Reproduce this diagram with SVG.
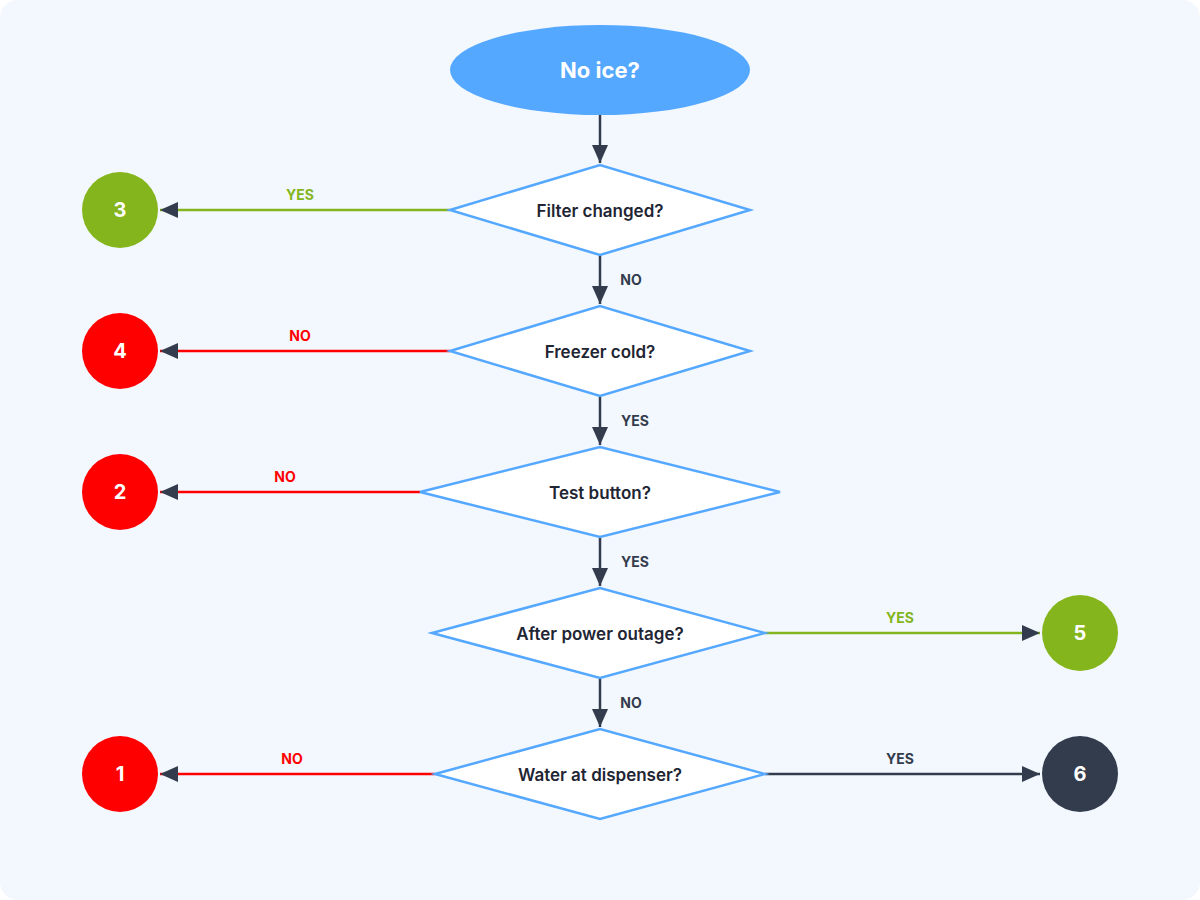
<svg xmlns="http://www.w3.org/2000/svg" width="1200" height="900" viewBox="0 0 1200 900">
<style>
.d{fill:#fff;stroke:#55a8ff;stroke-width:2.5}
.t{font-family:Inter,"Liberation Sans",sans-serif;font-weight:600;font-size:17px;fill:#1f2533;text-anchor:middle;dominant-baseline:central}
.c{font-family:Inter,"Liberation Sans",sans-serif;font-weight:700;font-size:20px;fill:#fff;text-anchor:middle;dominant-baseline:central}
.l{font-family:Inter,"Liberation Sans",sans-serif;font-weight:700;font-size:14px;text-anchor:middle;dominant-baseline:central}
.k{stroke:#333c4d;stroke-width:2.5;fill:none}
.g{stroke:#84b51c;stroke-width:2.5;fill:none}
.r{stroke:#f00;stroke-width:2.5;fill:none}
</style>
<defs>
<marker id="a" viewBox="0 0 10 10" refX="9" refY="5" markerWidth="6" markerHeight="6" markerUnits="userSpaceOnUse" orient="auto" style="overflow:visible"><path d="M0,0L10,5L0,10z" fill="#333c4d" transform="scale(1.8) translate(-4,-2.2)"/></marker>
<marker id="b" viewBox="0 0 20 16" refX="18" refY="8" markerWidth="20" markerHeight="16" markerUnits="userSpaceOnUse" orient="auto"><path d="M0,0L18,8L0,16z" fill="#333c4d"/></marker>
</defs>
<rect x="0" y="0" width="1200" height="900" rx="18" fill="#f3f8fe"/>
<g id="connectors">
<line class="k" x1="600" y1="115" x2="600" y2="163" marker-end="url(#b)"/>
<line class="k" x1="600" y1="255" x2="600" y2="304" marker-end="url(#b)"/>
<line class="k" x1="600" y1="396" x2="600" y2="445" marker-end="url(#b)"/>
<line class="k" x1="600" y1="537" x2="600" y2="586" marker-end="url(#b)"/>
<line class="k" x1="600" y1="678" x2="600" y2="727" marker-end="url(#b)"/>
<line class="g" x1="450" y1="210" x2="160" y2="210" marker-end="url(#b)"/>
<line class="r" x1="450" y1="351" x2="160" y2="351" marker-end="url(#b)"/>
<line class="r" x1="420" y1="492" x2="160" y2="492" marker-end="url(#b)"/>
<line class="g" x1="765" y1="633" x2="1040" y2="633" marker-end="url(#b)"/>
<line class="r" x1="435" y1="774" x2="160" y2="774" marker-end="url(#b)"/>
<line class="k" x1="765" y1="774" x2="1040" y2="774" marker-end="url(#b)"/>
<text class="l" x="631" y="279" fill="#333c4d">NO</text>
<text class="l" x="635" y="420" fill="#333c4d">YES</text>
<text class="l" x="635" y="561" fill="#333c4d">YES</text>
<text class="l" x="631" y="702" fill="#333c4d">NO</text>
<text class="l" x="300" y="194" fill="#84b51c">YES</text>
<text class="l" x="300" y="335" fill="#f00">NO</text>
<text class="l" x="285" y="476" fill="#f00">NO</text>
<text class="l" x="900" y="617" fill="#84b51c">YES</text>
<text class="l" x="292" y="758" fill="#f00">NO</text>
<text class="l" x="900" y="758" fill="#333c4d">YES</text>
</g>
<g id="start"><ellipse cx="600" cy="70" rx="150" ry="45" fill="#55a8ff"/><text class="c" x="600" y="70" style="font-size:22px">No ice?</text></g>
<g id="q1"><polygon class="d" points="450,210 600,165 750,210 600,255"/><text class="t" x="600" y="211">Filter changed?</text></g>
<g id="q2"><polygon class="d" points="450,351 600,306 750,351 600,396"/><text class="t" x="600" y="352">Freezer cold?</text></g>
<g id="q3"><polygon class="d" points="420,492 600,447 780,492 600,537"/><text class="t" x="600" y="493">Test button?</text></g>
<g id="q4"><polygon class="d" points="432,633 600,588 765,633 600,678"/><text class="t" x="600" y="634">After power outage?</text></g>
<g id="q5"><polygon class="d" points="435,774 600,729 765,774 600,819"/><text class="t" x="600" y="775">Water at dispenser?</text></g>
<g id="n3"><circle cx="120" cy="210" r="38" fill="#84b51c"/><text class="c" x="120" y="210">3</text></g>
<g id="n4"><circle cx="120" cy="351" r="38" fill="#f00"/><text class="c" x="120" y="351">4</text></g>
<g id="n2"><circle cx="120" cy="492" r="38" fill="#f00"/><text class="c" x="120" y="492">2</text></g>
<g id="n5"><circle cx="1080" cy="633" r="38" fill="#84b51c"/><text class="c" x="1080" y="633">5</text></g>
<g id="n1"><circle cx="120" cy="774" r="38" fill="#f00"/><text class="c" x="120" y="774">1</text></g>
<g id="n6"><circle cx="1080" cy="774" r="38" fill="#333c4d"/><text class="c" x="1080" y="774">6</text></g>
</svg>
